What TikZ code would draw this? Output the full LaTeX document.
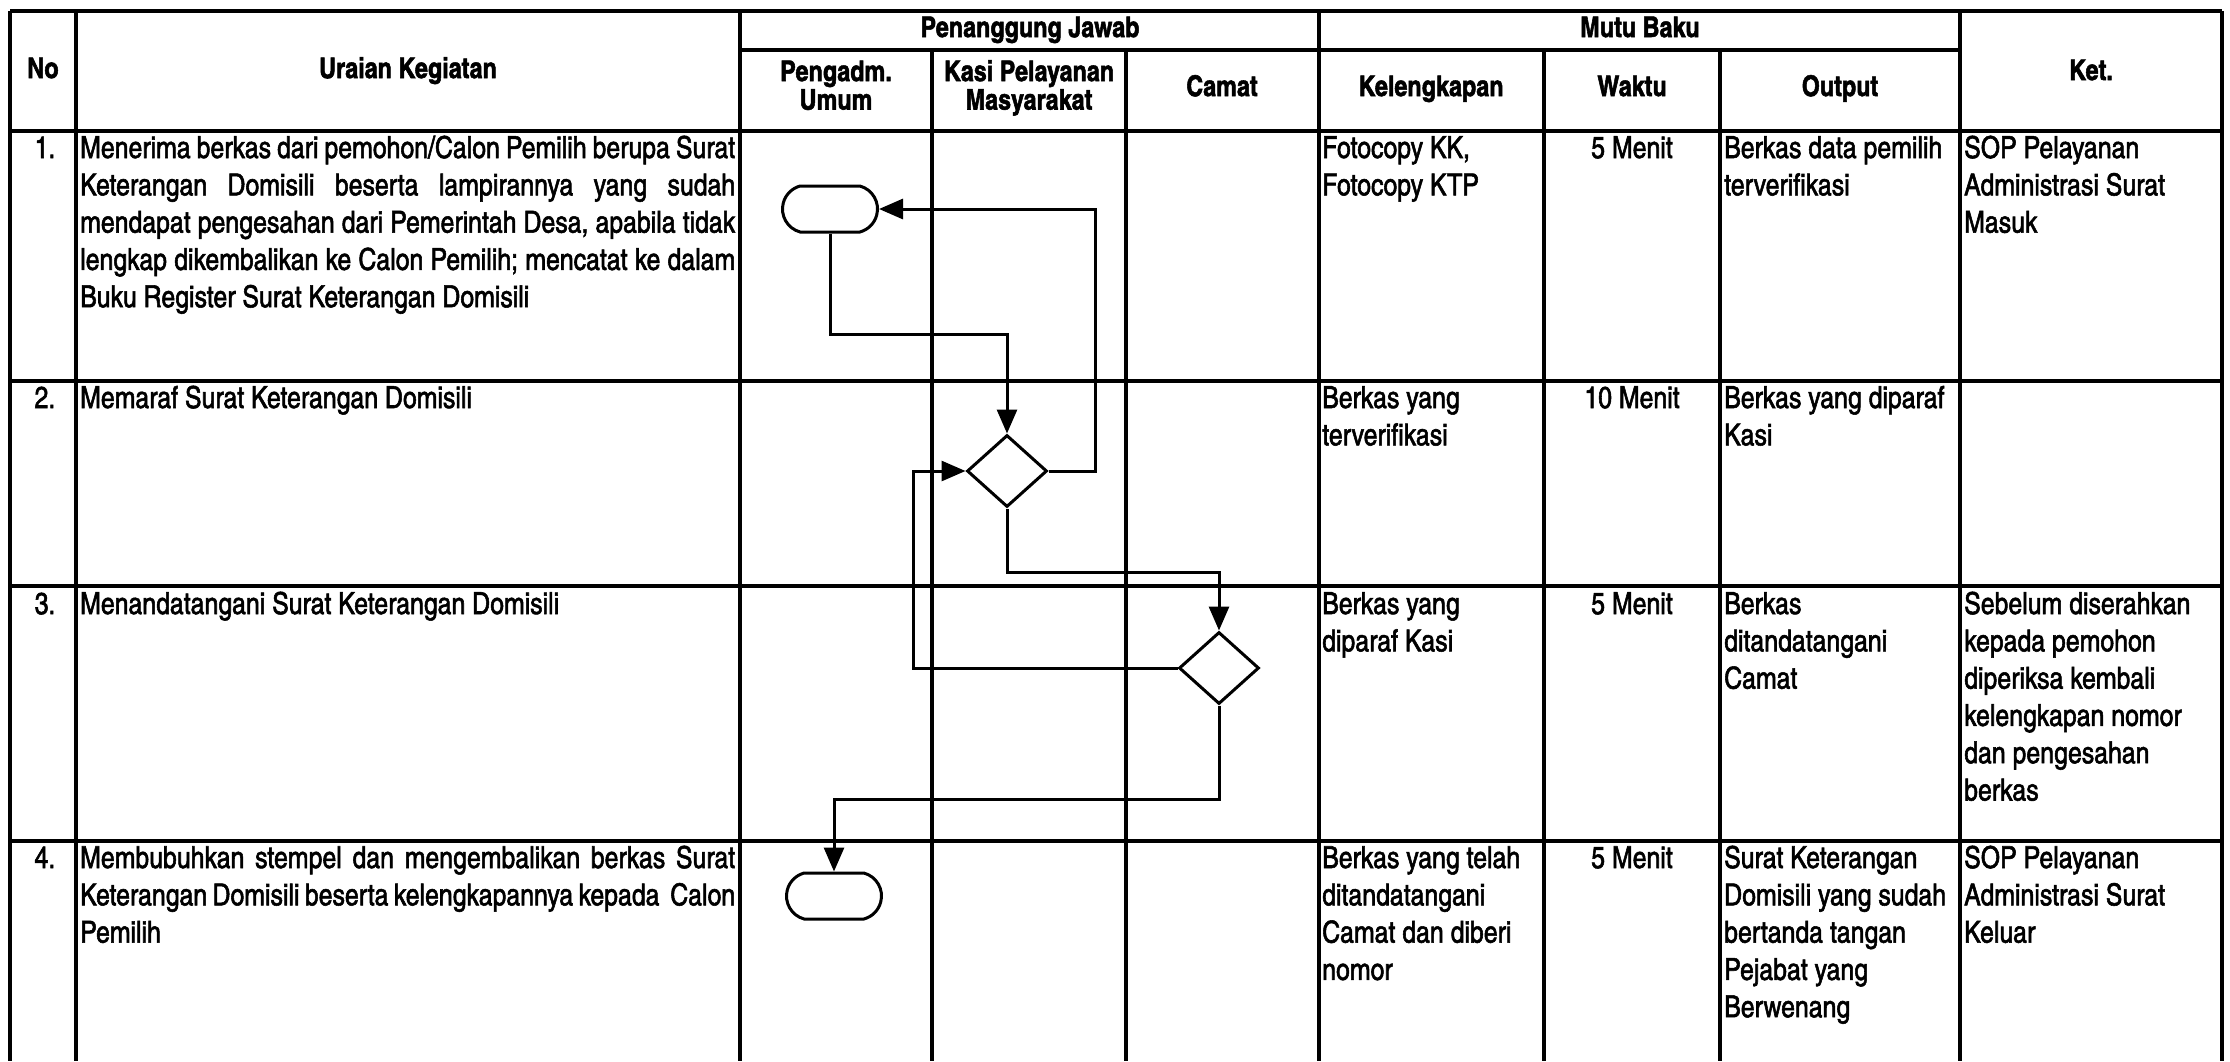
\documentclass[tikz,border=0pt]{standalone}
\usepackage{fontspec}
\setmainfont{texgyreheroscn-regular.otf}[BoldFont=texgyreheroscn-bold.otf,FakeBold=1.8]
\usetikzlibrary{arrows.meta,shapes.geometric,shapes.misc}
\newcommand\bodyfont{\fontsize{30.3}{37.3}\selectfont}
\newcommand\headfont{\fontsize{28.5}{28.5}\selectfont\bfseries}
% natural interword glue, so that justified lines can stretch
\newcommand\naturalspace{\spaceskip=0pt\xspaceskip=0pt\relax}
\newcommand\jline[1]{\makebox[\linewidth][s]{\naturalspace#1}}
\begin{document}
\begin{tikzpicture}[x=1pt,y=-1pt,
  gridline/.style={line width=3.2pt},
  flowline/.style={line width=3pt,-{Triangle[length=24pt,width=20pt]}},
  terminal/.style={draw,line width=3pt,rounded rectangle,rounded rectangle arc length=150,
    minimum width=95pt,minimum height=46pt,inner sep=0pt},
  decision/.style={draw,line width=3pt,diamond,minimum width=80pt,minimum height=72pt,inner sep=0pt},
  head/.style={font=\headfont,anchor=base,inner sep=0pt,text width=#1,
    execute at begin node={\centering\naturalspace}},
  head/.default=300pt,
  cell/.style={font=\bodyfont,anchor=base west,inner sep=0pt,text width=#1,
    execute at begin node=\naturalspace},
  num/.style={font=\bodyfont,anchor=base,inner sep=0pt},
  mid/.style={font=\bodyfont,anchor=base,inner sep=0pt,execute at begin node=\naturalspace}]
\useasboundingbox (0,0) rectangle (2230,1061);
\fill[white] (0,0) rectangle (2230,1061);

% table grid
\draw[gridline] (10,11) -- (2222,11);
\draw[gridline] (740,50) -- (1960,50);
\foreach \y in {131,381,586,841} \draw[gridline] (10,\y) -- (2222,\y);
\foreach \x in {10,76,740,1319,1960,2222} \draw[gridline] (\x,11) -- (\x,1061);
\foreach \x in {932,1126,1544,1720} \draw[gridline] (\x,50) -- (\x,1061);

% header
\node[head=60pt] (hno) at (43,78) {No};
\node[head=600pt] (hur) at (408,78) {Uraian Kegiatan};
\node[head=560pt] (hpj) at (1030,37) {Penanggung Jawab};
\node[head=600pt] (hmb) at (1640,37) {Mutu Baku};
\node[head=200pt] (hpu) at (836,81) {Pengadm.\\Umum};
\node[head=200pt] (hks) at (1029,81) {Kasi Pelayanan\\Masyarakat};
\node[head=180pt] (hcm) at (1222,96) {Camat};
\node[head=220pt] (hkl) at (1431,96) {Kelengkapan};
\node[head=170pt] (hwk) at (1632,96) {Waktu};
\node[head=230pt] (hop) at (1840,96) {Output};
\node[head=250pt] (hkt) at (2091,80) {Ket.};

% row 1
\node[num] (n1) at (45,158) {1.};
\node[cell=655pt] (u1) at (80,158) {\jline{Menerima berkas dari pemohon/Calon Pemilih berupa Surat}\\
  \jline{Keterangan Domisili beserta lampirannya yang sudah}\\
  \jline{mendapat pengesahan dari Pemerintah Desa, apabila tidak}\\
  \jline{lengkap dikembalikan ke Calon Pemilih; mencatat ke dalam}\\
  Buku Register Surat Keterangan Domisili};
\node[cell=220pt] (k1) at (1322,158) {Fotocopy KK,\\Fotocopy KTP};
\node[mid] (w1) at (1632,158) {5 Menit};
\node[cell=236pt] (o1) at (1724,158) {Berkas data pemilih\\terverifikasi};
\node[cell=256pt] (r1) at (1964,158) {SOP Pelayanan\\Administrasi Surat\\Masuk};

% row 2
\node[num] (n2) at (45,408) {2.};
\node[cell=655pt] (u2) at (80,408) {Memaraf Surat Keterangan Domisili};
\node[cell=220pt] (k2) at (1322,408) {Berkas yang\\terverifikasi};
\node[mid] (w2) at (1632,408) {10 Menit};
\node[cell=236pt] (o2) at (1724,408) {Berkas yang diparaf\\Kasi};

% row 3
\node[num] (n3) at (45,614) {3.};
\node[cell=655pt] (u3) at (80,614) {Menandatangani Surat Keterangan Domisili};
\node[cell=220pt] (k3) at (1322,614) {Berkas yang\\diparaf Kasi};
\node[mid] (w3) at (1632,614) {5 Menit};
\node[cell=236pt] (o3) at (1724,614) {Berkas\\ditandatangani\\Camat};
\node[cell=256pt] (r3) at (1964,614) {Sebelum diserahkan\\kepada pemohon\\diperiksa kembali\\kelengkapan nomor\\dan pengesahan\\berkas};

% row 4
\node[num] (n4) at (45,868) {4.};
\node[cell=655pt] (u4) at (80,868) {\jline{Membubuhkan stempel dan mengembalikan berkas Surat}\\
  \jline{Keterangan Domisili beserta kelengkapannya kepada\ \ Calon}\\
  Pemilih};
\node[cell=220pt] (k4) at (1322,868) {Berkas yang telah\\ditandatangani\\Camat dan diberi\\nomor};
\node[mid] (w4) at (1632,868) {5 Menit};
\node[cell=236pt] (o4) at (1724,868) {Surat Keterangan\\Domisili yang sudah\\bertanda tangan\\Pejabat yang\\Berwenang};
\node[cell=256pt] (r4) at (1964,868) {SOP Pelayanan\\Administrasi Surat\\Keluar};

% flowchart symbols
\node[terminal] (t1) at (830,209) {};
\node[decision] (d1) at (1007,471) {};
\node[decision] (d2) at (1219,668) {};
\node[terminal] (t2) at (834,896) {};

% bend points of the connectors
\coordinate (b1) at (1007,334);
\coordinate (b2) at (1095,209);
\coordinate (b3) at (1219,572);
\coordinate (b4) at (913,471);
\coordinate (b5) at (834,799);

\draw[flowline] (t1.south) |- (b1) -- (d1.north);
\draw[flowline] (d1.east) -| (b2) -- (t1.east);
\draw[flowline] (d1.south) |- (b3) -- (d2.north);
\draw[flowline] (d2.west) -| (b4) -- (d1.west);
\draw[flowline] (d2.south) |- (b5) -- (t2.north);
\end{tikzpicture}
\end{document}
